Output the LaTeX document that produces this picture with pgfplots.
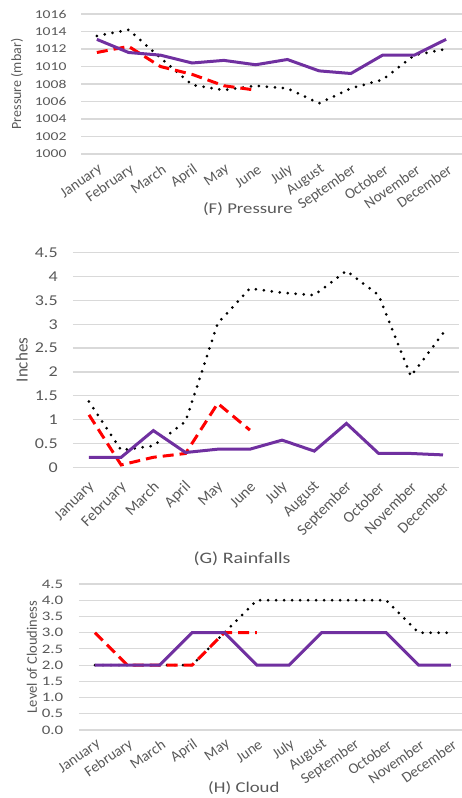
\documentclass[border=0pt]{standalone}
\usepackage{pgfplots}
\pgfplotsset{compat=1.18}
\usepackage{fontspec}
\setmainfont{Carlito}
\definecolor{txt}{HTML}{595959}
\definecolor{gridc}{HTML}{D9D9D9}
\definecolor{purp}{HTML}{7030A0}
\pgfplotsset{
  excel/.style={
    scale only axis,
    anchor=north west,
    xmin=-0.5, xmax=11.5,
    xtick={0,...,11},
    xticklabels={January,February,March,April,May,June,July,August,September,October,November,December},
    axis line style={draw=none},
    major tick style={draw=none},
    ymajorgrids,
    grid style={gridc, line width=1.2pt},
    /pgf/number format/assume math mode=true,
    /pgf/number format/set thousands separator={},
    ylabel style={text=txt},
    xlabel style={text=txt, anchor=center, xscale=1.25, font=\fontsize{15}{15}\selectfont},
  },
  purpline/.style={purp, line width=3pt, mark=none},
  redline/.style={red, line width=3pt, dash pattern=on 11pt off 6pt, mark=none},
  blackline/.style={black, line width=3pt, dash pattern=on 0pt off 8pt, line cap=round, mark=none},
}
\begin{document}
\begin{tikzpicture}
\useasboundingbox (0,0) rectangle (462pt,-798pt);
% (F) Pressure
\begin{axis}[excel, at={(81pt,-14pt)}, width=381pt, height=140pt,
  ymin=1000, ymax=1016, ytick={1000,1002,...,1016},
  yticklabel style={font=\fontsize{12}{12}\selectfont, text=txt, anchor=east, xshift=-10pt, xscale=1.3},
  xticklabel style={font=\fontsize{15}{15}\selectfont, text=txt, xshift=4pt, yshift=-14pt, rotate=35, anchor=east, inner sep=0pt},
  ylabel={Pressure (mbar)}, ylabel style={at={(axis description cs:-0.168,0.5)}, anchor=center, font=\fontsize{14}{14}\selectfont},
  xlabel={(F) Pressure}, xlabel style={at={(axis description cs:0.438,-0.393)}},
]
\addplot[blackline] coordinates {(0,1013.5) (1,1014.2) (2,1011.0) (3,1007.9) (4,1007.3) (5,1007.8) (6,1007.5) (7,1005.8) (8,1007.5) (9,1008.5) (10,1011.3) (11,1012.0)};
\addplot[redline] coordinates {(0,1011.6) (1,1012.3) (2,1010.0) (3,1009.1) (4,1007.8) (5,1007.3)};
\addplot[purpline] coordinates {(0,1013.1) (1,1011.6) (2,1011.3) (3,1010.4) (4,1010.7) (5,1010.2) (6,1010.8) (7,1009.5) (8,1009.2) (9,1011.3) (10,1011.3) (11,1013.1)};
\end{axis}
% (G) Rainfalls
\begin{axis}[excel, at={(72.9pt,-252.7pt)}, width=386.2pt, height=214.6pt,
  ymin=0, ymax=4.5, ytick={0,0.5,...,4.5},
  yticklabel style={font=\fontsize{15}{15}\selectfont, text=txt, anchor=east, xshift=-11pt, xscale=1.2},
  xticklabel style={font=\fontsize{15.5}{15.5}\selectfont, text=txt, xshift=3pt, yshift=-17pt, rotate=45, anchor=east, inner sep=0pt},
  ylabel={Inches}, ylabel style={at={(axis description cs:-0.1326,0.5)}, anchor=center, font=\fontsize{17}{17}\selectfont},
  xlabel={(G) Rainfalls}, xlabel style={at={(axis description cs:0.438,-0.425)}, font=\fontsize{16}{16}\selectfont},
]
\addplot[blackline] coordinates {(0,1.38) (1,0.36) (2,0.45) (3,0.96) (4,3.02) (5,3.75) (6,3.66) (7,3.61) (8,4.12) (9,3.61) (10,1.91) (11,2.81)};
\addplot[redline] coordinates {(0,1.10) (1,0.05) (2,0.21) (3,0.29) (4,1.34) (5,0.78)};
\addplot[purpline] coordinates {(0,0.21) (1,0.21) (2,0.77) (3,0.31) (4,0.38) (5,0.38) (6,0.57) (7,0.34) (8,0.92) (9,0.29) (10,0.29) (11,0.26)};
\end{axis}
% (H) Cloud
\begin{axis}[excel, at={(78.8pt,-584pt)}, width=388.3pt, height=146pt,
  ymin=0, ymax=4.5, ytick={0,0.5,...,4.5},
  yticklabel style={font=\fontsize{13}{13}\selectfont, text=txt, anchor=east, xshift=-11pt, xscale=1.3,
    /pgf/number format/.cd, fixed, fixed zerofill, precision=1},
  xticklabel style={font=\fontsize{15}{15}\selectfont, text=txt, xshift=4pt, yshift=-13pt, rotate=35, anchor=east, inner sep=0pt},
  ylabel={Level of Cloudiness}, ylabel style={at={(axis description cs:-0.1205,0.5)}, anchor=center, font=\fontsize{14.5}{14.5}\selectfont},
  xlabel={(H) Cloud}, xlabel style={at={(axis description cs:0.425,-0.397)}},
]
\addplot[blackline] coordinates {(0,2) (1,2) (2,2) (3,2) (4,3) (5,4) (6,4) (7,4) (8,4) (9,4) (10,3) (11,3)};
\addplot[redline] coordinates {(0,3) (1,2) (2,2) (3,2) (4,3) (5,3)};
\addplot[purpline] coordinates {(0,2) (1,2) (2,2) (3,3) (4,3) (5,2) (6,2) (7,3) (8,3) (9,3) (10,2) (11,2)};
\end{axis}
\end{tikzpicture}
\end{document}
